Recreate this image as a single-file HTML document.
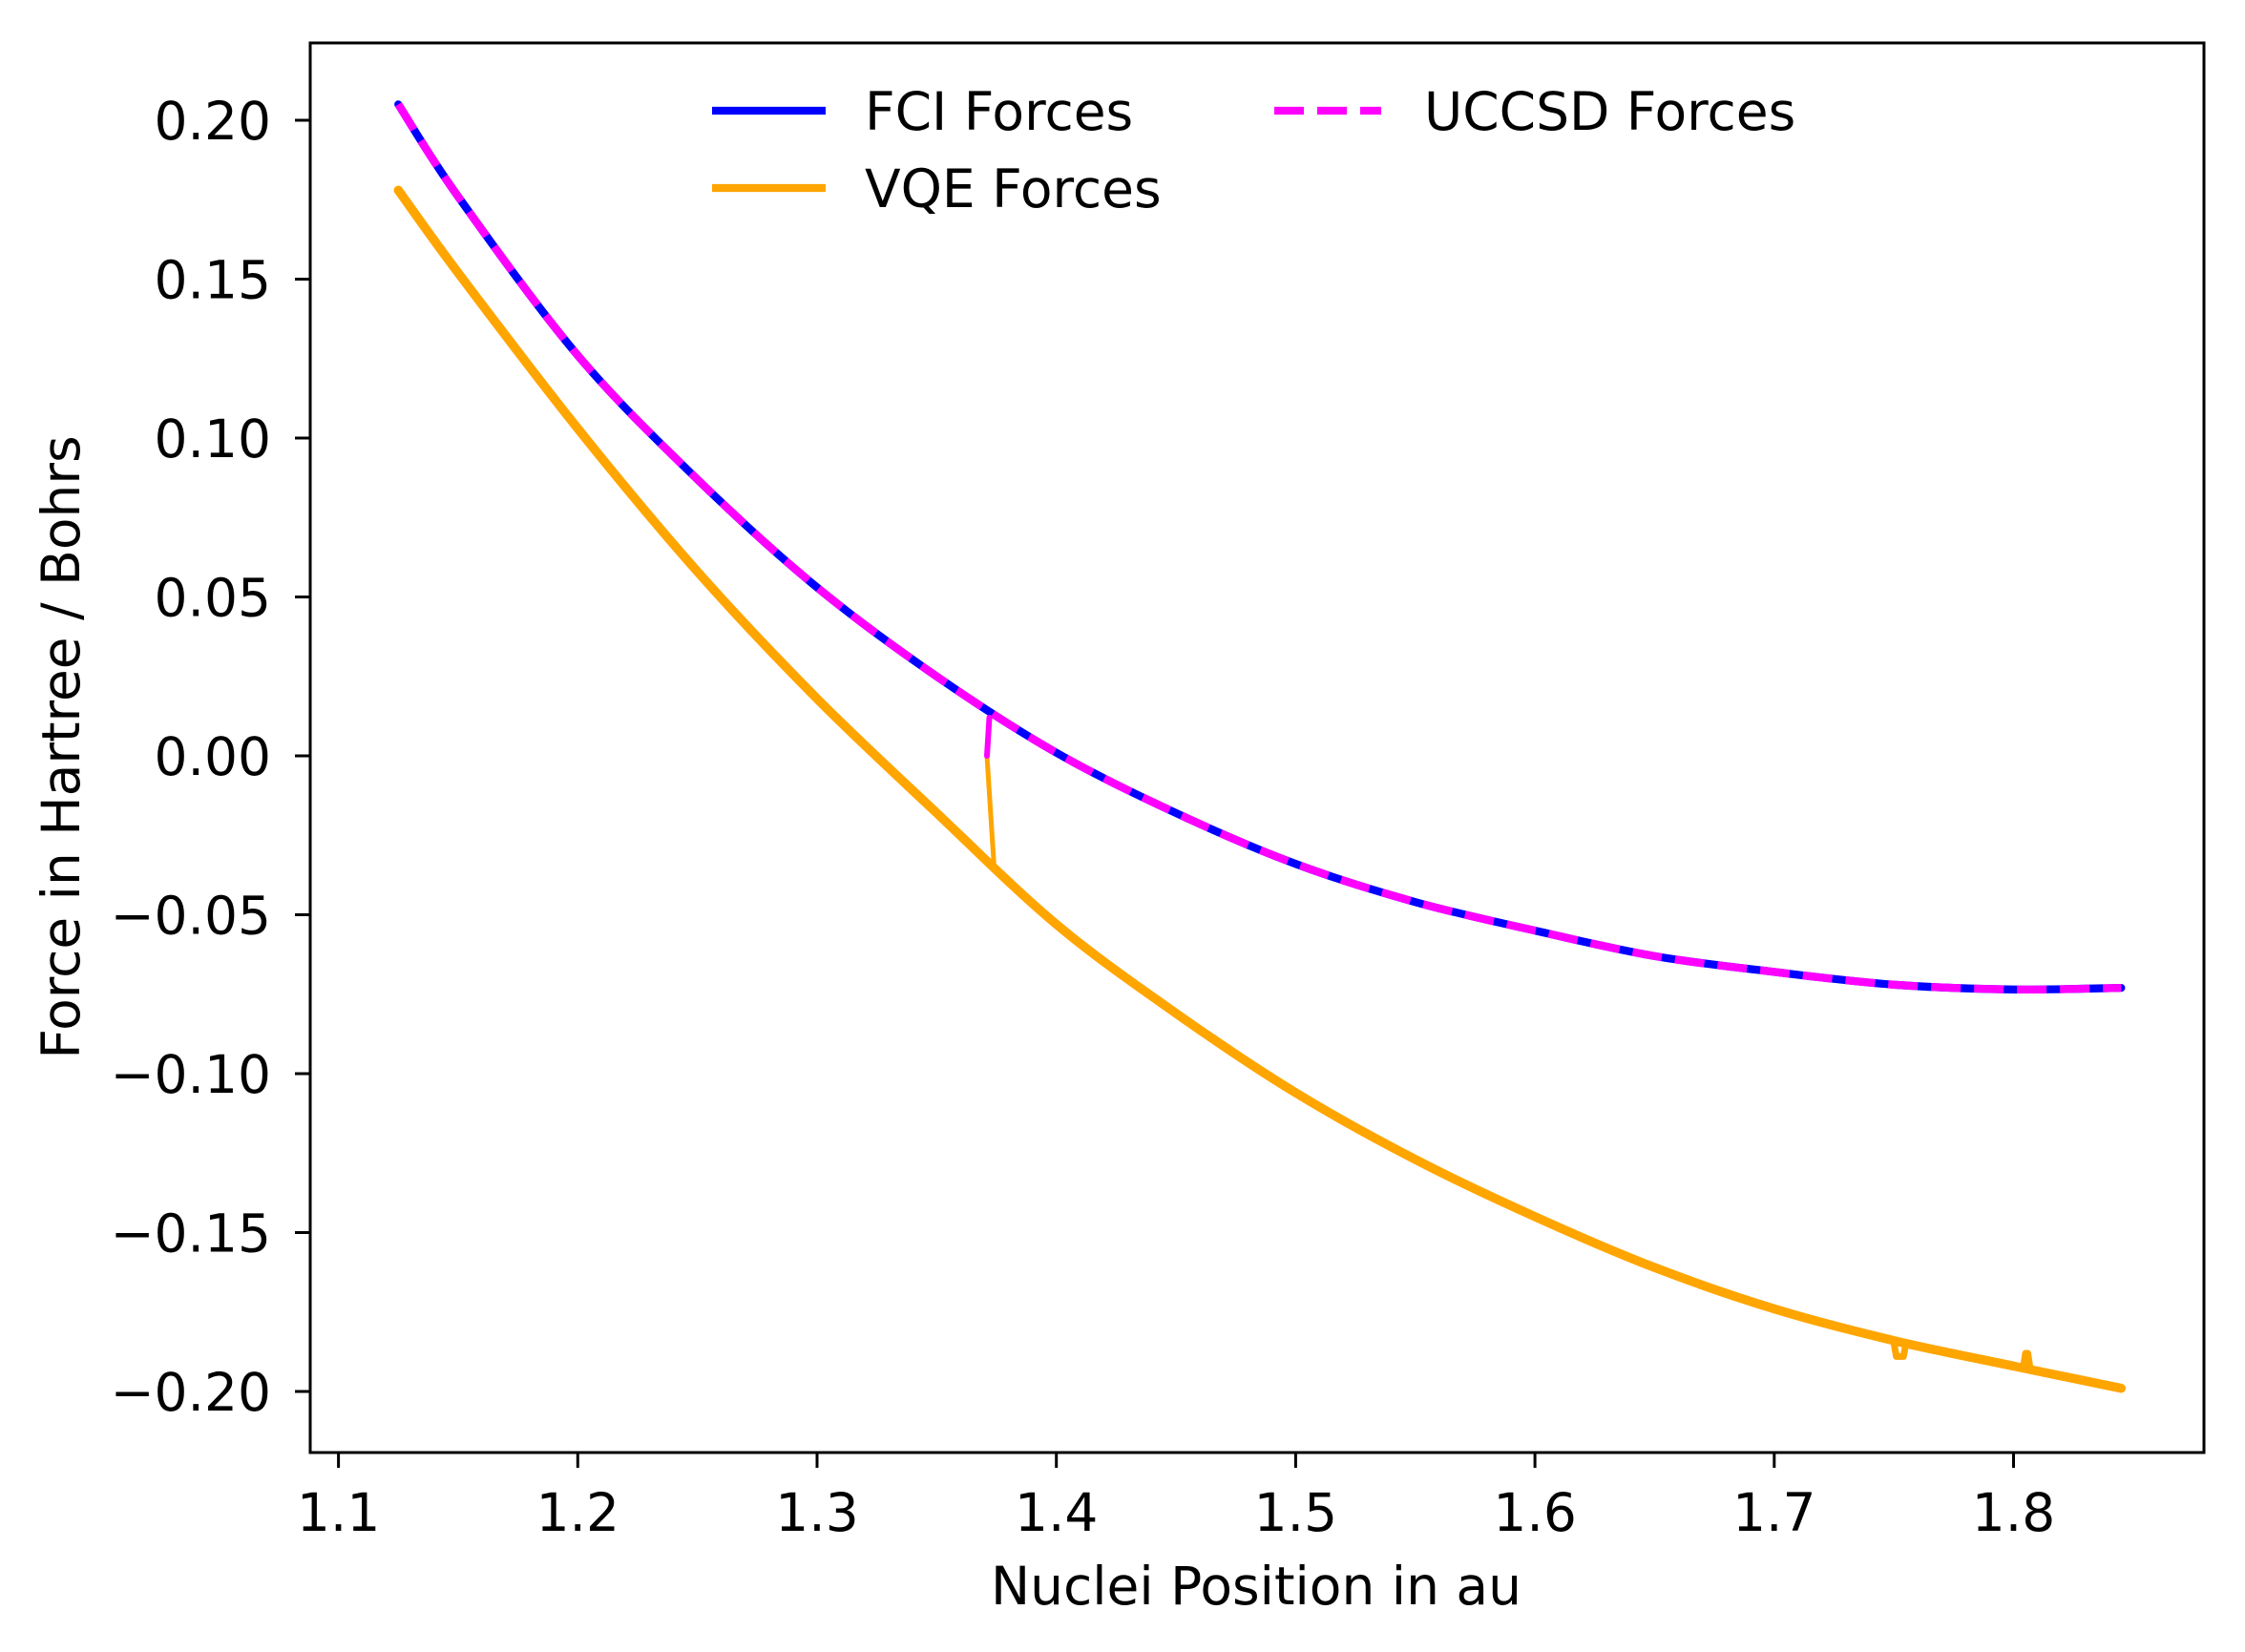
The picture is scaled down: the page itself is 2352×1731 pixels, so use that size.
<!DOCTYPE html>
<html><head><meta charset="utf-8"><style>
html,body{margin:0;padding:0;background:#fff;}
svg{display:block;font-family:"DejaVu Sans","Liberation Sans",sans-serif;}
</style></head><body>
<svg id="chart" width="2352" height="1731" viewBox="0 0 2352 1731" xmlns="http://www.w3.org/2000/svg">
<rect width="2352" height="1731" fill="#fff"/>
<g id="plot"></g>
<g id="axes"></g>
<g id="legend">
  <line x1="746" y1="116" x2="865" y2="116" stroke="#0000ff" stroke-width="8.3"/>
  <text x="906" y="136" font-size="55">FCI Forces</text>
  <line x1="746" y1="197" x2="865" y2="197" stroke="#ffa500" stroke-width="8.3"/>
  <text x="906" y="217" font-size="55">VQE Forces</text>
  <line x1="1335" y1="116" x2="1447" y2="116" stroke="#ff00ff" stroke-width="8.3" stroke-dasharray="31,14"/>
  <text x="1492" y="136" font-size="55">UCCSD Forces</text>
</g>
<text x="1316" y="1681" font-size="55" text-anchor="middle">Nuclei Position in au</text>
<text transform="translate(83,783) rotate(-90)" font-size="55" text-anchor="middle">Force in Hartree / Bohrs</text>
</svg>
<script>
const xTicks=[1.1,1.2,1.3,1.4,1.5,1.6,1.7,1.8];
const yTicks=[0.20,0.15,0.10,0.05,0.00,-0.05,-0.10,-0.15,-0.20];
const fciX=[1.125,1.15,1.2,1.25,1.3,1.35,1.4,1.45,1.5,1.55,1.6,1.65,1.7,1.75,1.8,1.845];
const fciY=[0.205,0.176,0.126,0.087,0.053,0.025,0.001,-0.018,-0.034,-0.046,-0.055,-0.063,-0.068,-0.072,-0.0735,-0.073];
const uccX=[1.125,1.15,1.2,1.25,1.3,1.35,1.4,1.45,1.5,1.55,1.6,1.65,1.7,1.75,1.8,1.845];
const uccY=[0.205,0.176,0.126,0.087,0.053,0.025,0.001,-0.018,-0.034,-0.046,-0.055,-0.063,-0.068,-0.072,-0.0735,-0.073];
const uccDropX=[1.372,1.371];
const uccDropY=[0.012,0.0];
const vqeX=[1.125,1.15,1.2,1.25,1.3,1.35,1.4,1.45,1.5,1.55,1.6,1.65,1.7,1.75,1.8,1.845];
const vqeY=[0.178,0.152,0.103,0.058,0.018,-0.018,-0.053,-0.081,-0.106,-0.127,-0.145,-0.161,-0.174,-0.184,-0.192,-0.199];
const glitch1X=[1.750,1.751,1.754,1.755];
const glitch1Y=[-0.1845,-0.189,-0.189,-0.185];
const glitch2X=[1.804,1.805,1.806,1.807];
const glitch2Y=[-0.193,-0.188,-0.188,-0.193];
const jumpX=[1.371,1.374];
const jumpY=[0.0,-0.035];

const L=325,R=2309,T=45,B=1522;
function sx(v){return 354.6+(v-1.1)*2507;}
function sy(v){return 126+(0.2-v)*3330;}
const NS='http://www.w3.org/2000/svg';
const plot=document.getElementById('plot');
const axes=document.getElementById('axes');
function path(xs,ys,color,w,dash,name,smooth){
  const p=document.createElementNS(NS,'path');
  const P=xs.map((x,i)=>[sx(x),sy(ys[i])]);
  let d='M'+P[0][0].toFixed(1)+','+P[0][1].toFixed(1);
  for(let i=1;i<P.length;i++){
    if(smooth){
      const p0=P[Math.max(i-2,0)],p1=P[i-1],p2=P[i],p3=P[Math.min(i+1,P.length-1)];
      const c1=[p1[0]+(p2[0]-p0[0])/6,p1[1]+(p2[1]-p0[1])/6];
      const c2=[p2[0]-(p3[0]-p1[0])/6,p2[1]-(p3[1]-p1[1])/6];
      d+='C'+c1[0].toFixed(1)+','+c1[1].toFixed(1)+' '+c2[0].toFixed(1)+','+c2[1].toFixed(1)+' '+p2[0].toFixed(1)+','+p2[1].toFixed(1);
    } else d+='L'+P[i][0].toFixed(1)+','+P[i][1].toFixed(1);
  }
  p.setAttribute('d',d);p.setAttribute('fill','none');p.setAttribute('stroke',color);
  p.setAttribute('stroke-width',w);p.setAttribute('stroke-linejoin','round');p.setAttribute('stroke-linecap','round');
  if(dash){p.setAttribute('stroke-dasharray',dash);p.setAttribute('stroke-linecap','butt');}
  
  
  plot.appendChild(p);
}
path(vqeX,vqeY,'#ffa500',9.5,null,'vqe-forces-line',true);
path(glitch1X,glitch1Y,'#ffa500',7,null,'vqe-glitch-1',false);
path(glitch2X,glitch2Y,'#ffa500',7,null,'vqe-glitch-2',false);
path(jumpX,jumpY,'#ffa500',5,null,'vqe-jump-line',false);
path(fciX,fciY,'#0000ff',8.3,null,'fci-forces-line',true);
path(uccX,uccY,'#ff00ff',8.3,'31,14','uccsd-forces-line',true);
path(uccDropX,uccDropY,'#ff00ff',6,null,'uccsd-drop-line',false);

const frame=document.createElementNS(NS,'rect');
frame.setAttribute('x',L);frame.setAttribute('y',T);frame.setAttribute('width',R-L);frame.setAttribute('height',B-T);
frame.setAttribute('fill','none');frame.setAttribute('stroke','#000');frame.setAttribute('stroke-width','3');


axes.appendChild(frame);
xTicks.forEach(v=>{
  const x=sx(v);
  const l=document.createElementNS(NS,'line');
  l.setAttribute('x1',x);l.setAttribute('x2',x);l.setAttribute('y1',B);l.setAttribute('y2',B+16);
  l.setAttribute('stroke','#000');l.setAttribute('stroke-width','3');
  
  
  axes.appendChild(l);
  const t=document.createElementNS(NS,'text');
  t.setAttribute('x',x);t.setAttribute('y',1604);t.setAttribute('font-size','55');t.setAttribute('text-anchor','middle');
  t.textContent=v.toFixed(1);
  
  
  axes.appendChild(t);
});
yTicks.forEach(v=>{
  const y=sy(v);
  const l=document.createElementNS(NS,'line');
  l.setAttribute('x1',L-16);l.setAttribute('x2',L);l.setAttribute('y1',y);l.setAttribute('y2',y);
  l.setAttribute('stroke','#000');l.setAttribute('stroke-width','3');
  
  
  axes.appendChild(l);
  const t=document.createElementNS(NS,'text');
  t.setAttribute('x',284);t.setAttribute('y',y+20);t.setAttribute('font-size','55');t.setAttribute('text-anchor','end');
  t.textContent=(v<0?'\u2212':'')+Math.abs(v).toFixed(2);
  
  
  axes.appendChild(t);
});
</script>
</body></html>
